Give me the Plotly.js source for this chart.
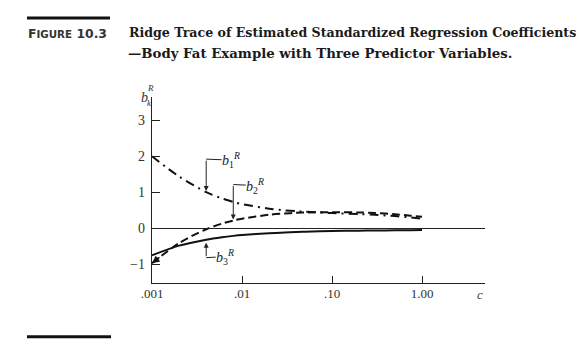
<!DOCTYPE html>
<html>
<head>
<meta charset="utf-8">
<script src="https://cdn.plot.ly/plotly-3.0.1.min.js"></script>
<style>html,body{margin:0;padding:0;background:#fff;}#chart{width:584px;height:356px;}</style>
</head>
<body>
<div id="chart"></div>
<script>
// Ridge parameter c
var ridgeC = [0.001, 0.002, 0.004, 0.006, 0.008, 0.01, 0.02, 0.03, 0.04, 0.05, 0.1, 0.2, 0.3, 0.5, 0.75, 1.0];
// Standardized ridge coefficients
var b1R = [2.00, 1.441, 1.006, 0.830, 0.734, 0.674, 0.546, 0.500, 0.476, 0.461, 0.423, 0.395, 0.375, 0.340, 0.300, 0.27];
var b2R = [-0.97, -0.411, -0.025, 0.131, 0.216, 0.268, 0.377, 0.413, 0.430, 0.439, 0.449, 0.440, 0.425, 0.390, 0.350, 0.32];
var b3R = [-0.75, -0.481, -0.315, -0.247, -0.210, -0.187, -0.137, -0.116, -0.104, -0.095, -0.075, -0.066, -0.061, -0.056, -0.052, -0.05];
// Axis ticks
var xTickVals = [0.001, 0.01, 0.1, 1];
var xTickText = ['.001', '.01', '.10', '1.00'];
var yTickVals = [-1, 0, 1, 2, 3];
var yTickText = ['\u22121', '0', '1', '2', '3'];

var L = 152, R = 485, T = 96.6, B = 282.7, W = 584, H = 356;
function px(x) { return (x - L) / (R - L); }
function py(y) { return (B - y) / (B - T); }
var serif = 'Liberation Serif, Times New Roman, serif';
var titleSerif = 'DejaVu Serif, serif';
var sans = 'DejaVu Sans, sans-serif';

var traces = [
  {x: ridgeC, y: b1R, mode: 'lines', line: {color: '#111', width: 2, dash: '9px,5px,2px,5px', shape: 'spline', smoothing: 0.8}},
  {x: ridgeC, y: b2R, mode: 'lines', line: {color: '#111', width: 2, dash: '8px,4px', shape: 'spline', smoothing: 0.8}},
  {x: ridgeC, y: b3R, mode: 'lines', line: {color: '#111', width: 2, shape: 'spline', smoothing: 0.8}}
];

function lg(v) { return Math.log10(v); }
var i1 = ridgeC.indexOf(0.004), i2 = ridgeC.indexOf(0.008), i3 = ridgeC.indexOf(0.004);
var lblFont = {family: serif, size: 14, color: '#222'};

var ann = [
  // figure title
  {xref: 'paper', yref: 'paper', x: px(26), y: py(33.5), xanchor: 'left', yanchor: 'middle', showarrow: false,
   text: '<b>F<span style="font-size:10.3px">IGURE</span> 10.3</b>', font: {family: sans, size: 12.4, color: '#333'}},
  {xref: 'paper', yref: 'paper', x: px(127), y: py(32.5), xanchor: 'left', yanchor: 'middle', showarrow: false,
   text: '<b>Ridge Trace of Estimated Standardized Regression Coefficients</b>', font: {family: titleSerif, size: 12.6, color: '#1a1a1a'}},
  {xref: 'paper', yref: 'paper', x: px(126), y: py(53), xanchor: 'left', yanchor: 'middle', showarrow: false,
   text: '<b>\u2014Body Fat Example with Three Predictor Variables.</b>', font: {family: titleSerif, size: 13.3, color: '#1a1a1a'}},
  // y-axis title
  {xref: 'paper', yref: 'paper', x: px(144.5), y: py(97), xanchor: 'center', yanchor: 'middle', showarrow: false,
   text: '<i>b</i>', font: {family: serif, size: 14, color: '#333'}},
  {xref: 'paper', yref: 'paper', x: px(150.5), y: py(88), xanchor: 'center', yanchor: 'middle', showarrow: false,
   text: '<i>R</i>', font: {family: serif, size: 9, color: '#333'}},
  {xref: 'paper', yref: 'paper', x: px(149.5), y: py(102.5), xanchor: 'center', yanchor: 'middle', showarrow: false,
   text: '<i>k</i>', font: {family: serif, size: 9, color: '#333'}},
  // x-axis title
  {xref: 'paper', yref: 'paper', x: px(480), y: py(294), xanchor: 'center', yanchor: 'middle', showarrow: false,
   text: '<i>c</i>', font: {family: serif, size: 13, color: '#444'}},
  // b1 leader
  {x: lg(ridgeC[i1]), y: b1R[i1], text: '', showarrow: true, ax: 0, ay: -33, arrowhead: 2, arrowsize: 1, arrowwidth: 1, arrowcolor: '#222', standoff: 1},
  {x: lg(ridgeC[i1]), y: b1R[i1], yshift: 33, text: '<i>b</i><sub>1</sub><sup><i>R</i></sup>', showarrow: true, arrowhead: 0, arrowwidth: 1, arrowcolor: '#222',
   ax: 25, ay: 1, xanchor: 'center', yanchor: 'middle', borderpad: 0, font: lblFont},
  // b2 leader
  {x: lg(ridgeC[i2]), y: b2R[i2], text: '', showarrow: true, ax: 0, ay: -36, arrowhead: 2, arrowsize: 1, arrowwidth: 1, arrowcolor: '#222', standoff: 1},
  {x: lg(ridgeC[i2]), y: b2R[i2], yshift: 36, text: '<i>b</i><sub>2</sub><sup><i>R</i></sup>', showarrow: true, arrowhead: 0, arrowwidth: 1, arrowcolor: '#222',
   ax: 22, ay: 1, xanchor: 'center', yanchor: 'middle', borderpad: 0, font: lblFont},
  // b3 leader
  {x: lg(ridgeC[i3]), y: b3R[i3], text: '', showarrow: true, ax: 0, ay: 18, arrowhead: 2, arrowsize: 1, arrowwidth: 1, arrowcolor: '#222', standoff: 3},
  {x: lg(ridgeC[i3]), y: b3R[i3], yshift: -18, text: '<i>b</i><sub>3</sub><sup><i>R</i></sup>', showarrow: true, arrowhead: 0, arrowwidth: 1, arrowcolor: '#222',
   ax: 19, ay: -1, xanchor: 'center', yanchor: 'middle', borderpad: 0, font: lblFont},
  // arrowhead at start of b2
  {x: lg(ridgeC[0]), y: b2R[0], text: '', showarrow: true, ax: 9, ay: -7, arrowhead: 2, arrowsize: 1, arrowwidth: 1.5, arrowcolor: '#111', standoff: 0}
];

var shapes = [
  {type: 'line', xref: 'paper', yref: 'paper', x0: px(27), x1: px(110), y0: py(17.5), y1: py(17.5), line: {color: '#111', width: 3}},
  {type: 'line', xref: 'paper', yref: 'paper', x0: px(27), x1: px(111), y0: py(336.5), y1: py(336.5), line: {color: '#111', width: 3}}
];

var layout = {
  width: W, height: H,
  margin: {l: L, r: W - R, t: T, b: H - B, pad: 0},
  paper_bgcolor: '#fff', plot_bgcolor: '#fff',
  showlegend: false,
  xaxis: {type: 'log', range: [-3, 0.7], showline: true, linecolor: '#222', linewidth: 1.3,
    ticks: 'inside', ticklen: 7, tickwidth: 1, tickcolor: '#222',
    tickmode: 'array', tickvals: xTickVals, ticktext: xTickText, ticklabelstandoff: -2,
    tickfont: {family: serif, size: 13, color: '#333'}, showgrid: false, zeroline: false},
  yaxis: {range: [-1.52, 3.65], showline: true, linecolor: '#222', linewidth: 1.3,
    ticks: 'inside', ticklen: 8, tickwidth: 1, tickcolor: '#222',
    tickmode: 'array', tickvals: yTickVals, ticktext: yTickText, ticklabelstandoff: 3,
    tickfont: {family: serif, size: 14, color: '#333'}, showgrid: false,
    zeroline: true, zerolinecolor: '#222', zerolinewidth: 1},
  annotations: ann,
  shapes: shapes
};

Plotly.newPlot('chart', traces, layout, {staticPlot: true, displayModeBar: false});
</script>
</body>
</html>
